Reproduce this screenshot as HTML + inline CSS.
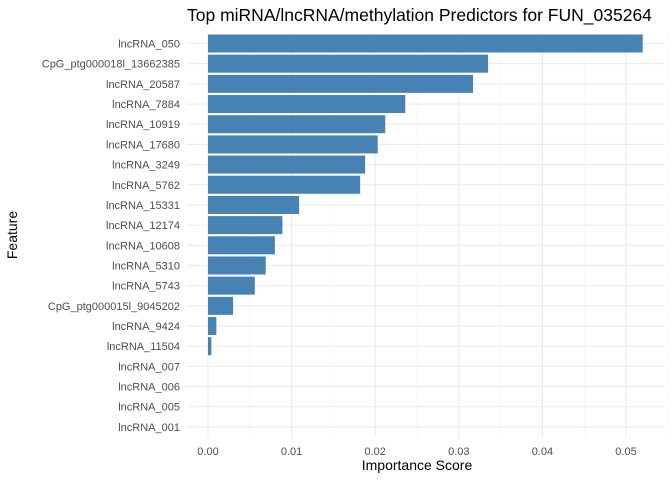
<!DOCTYPE html>
<html><head><meta charset="utf-8"><style>
body{margin:0;background:#fff;font-family:"Liberation Sans",sans-serif}
</style></head><body>
<svg id="chart" width="672" height="480" xmlns="http://www.w3.org/2000/svg" font-family="Liberation Sans, sans-serif">
<text x="187" y="21" font-size="17.5" fill="#000">Top miRNA/lncRNA/methylation Predictors for FUN_035264</text>
<text x="417" y="470" font-size="14" text-anchor="middle" fill="#000">Importance Score</text>
<text transform="translate(17,235) rotate(-90)" font-size="14" text-anchor="middle" fill="#000">Feature</text>
<g id="grid"></g><g id="bars"></g><g id="labels"></g>
</svg>
<script>
const features=["lncRNA_050","CpG_ptg000018l_13662385","lncRNA_20587","lncRNA_7884","lncRNA_10919","lncRNA_17680","lncRNA_3249","lncRNA_5762","lncRNA_15331","lncRNA_12174","lncRNA_10608","lncRNA_5310","lncRNA_5743","CpG_ptg000015l_9045202","lncRNA_9424","lncRNA_11504","lncRNA_007","lncRNA_006","lncRNA_005","lncRNA_001"];
const scores=[0.052,0.0335,0.0317,0.0236,0.0212,0.0203,0.0188,0.0182,0.0109,0.0089,0.008,0.0069,0.0056,0.003,0.001,0.0004,0,0,0,0];
const xTicks=[0,0.01,0.02,0.03,0.04,0.05];
const xTickLabels=["0.00","0.01","0.02","0.03","0.04","0.05"];
const NS="http://www.w3.org/2000/svg";
const L=187,R=665,T=33,B=437;
const x=v=>208+v*8360;
const y=i=>43.5+i*20.18;
const grid=document.getElementById('grid'),bars=document.getElementById('bars'),labels=document.getElementById('labels');
function mk(tag,attrs,parent){const e=document.createElementNS(NS,tag);for(const k in attrs)e.setAttribute(k,attrs[k]);parent.appendChild(e);return e;}
for(let v=0.005;v<0.056;v+=0.01){const g=mk('line',{x1:x(v),x2:x(v),y1:T,y2:B,stroke:'#f2f2f2','stroke-width':0.6},grid);

}
xTicks.forEach((v,i)=>{const g=mk('line',{x1:x(v),x2:x(v),y1:T,y2:B,stroke:'#ebebeb','stroke-width':1.1},grid);


const t=mk('text',{x:x(v),y:455,'font-size':11,'text-anchor':'middle',fill:'#4d4d4d'},labels);t.textContent=xTickLabels[i];

});
features.forEach((f,i)=>{const g=mk('line',{x1:L,x2:R,y1:y(i),y2:y(i),stroke:'#ebebeb','stroke-width':1.1},grid);


if(scores[i]>0){const b=mk('rect',{x:x(0),y:y(i)-9,width:x(scores[i])-x(0),height:18,fill:'#4682b4'},bars);

}
const t=mk('text',{x:180,y:y(i)+4,'font-size':11,'text-anchor':'end',fill:'#4d4d4d'},labels);t.textContent=f;

});
</script>
</body></html>
